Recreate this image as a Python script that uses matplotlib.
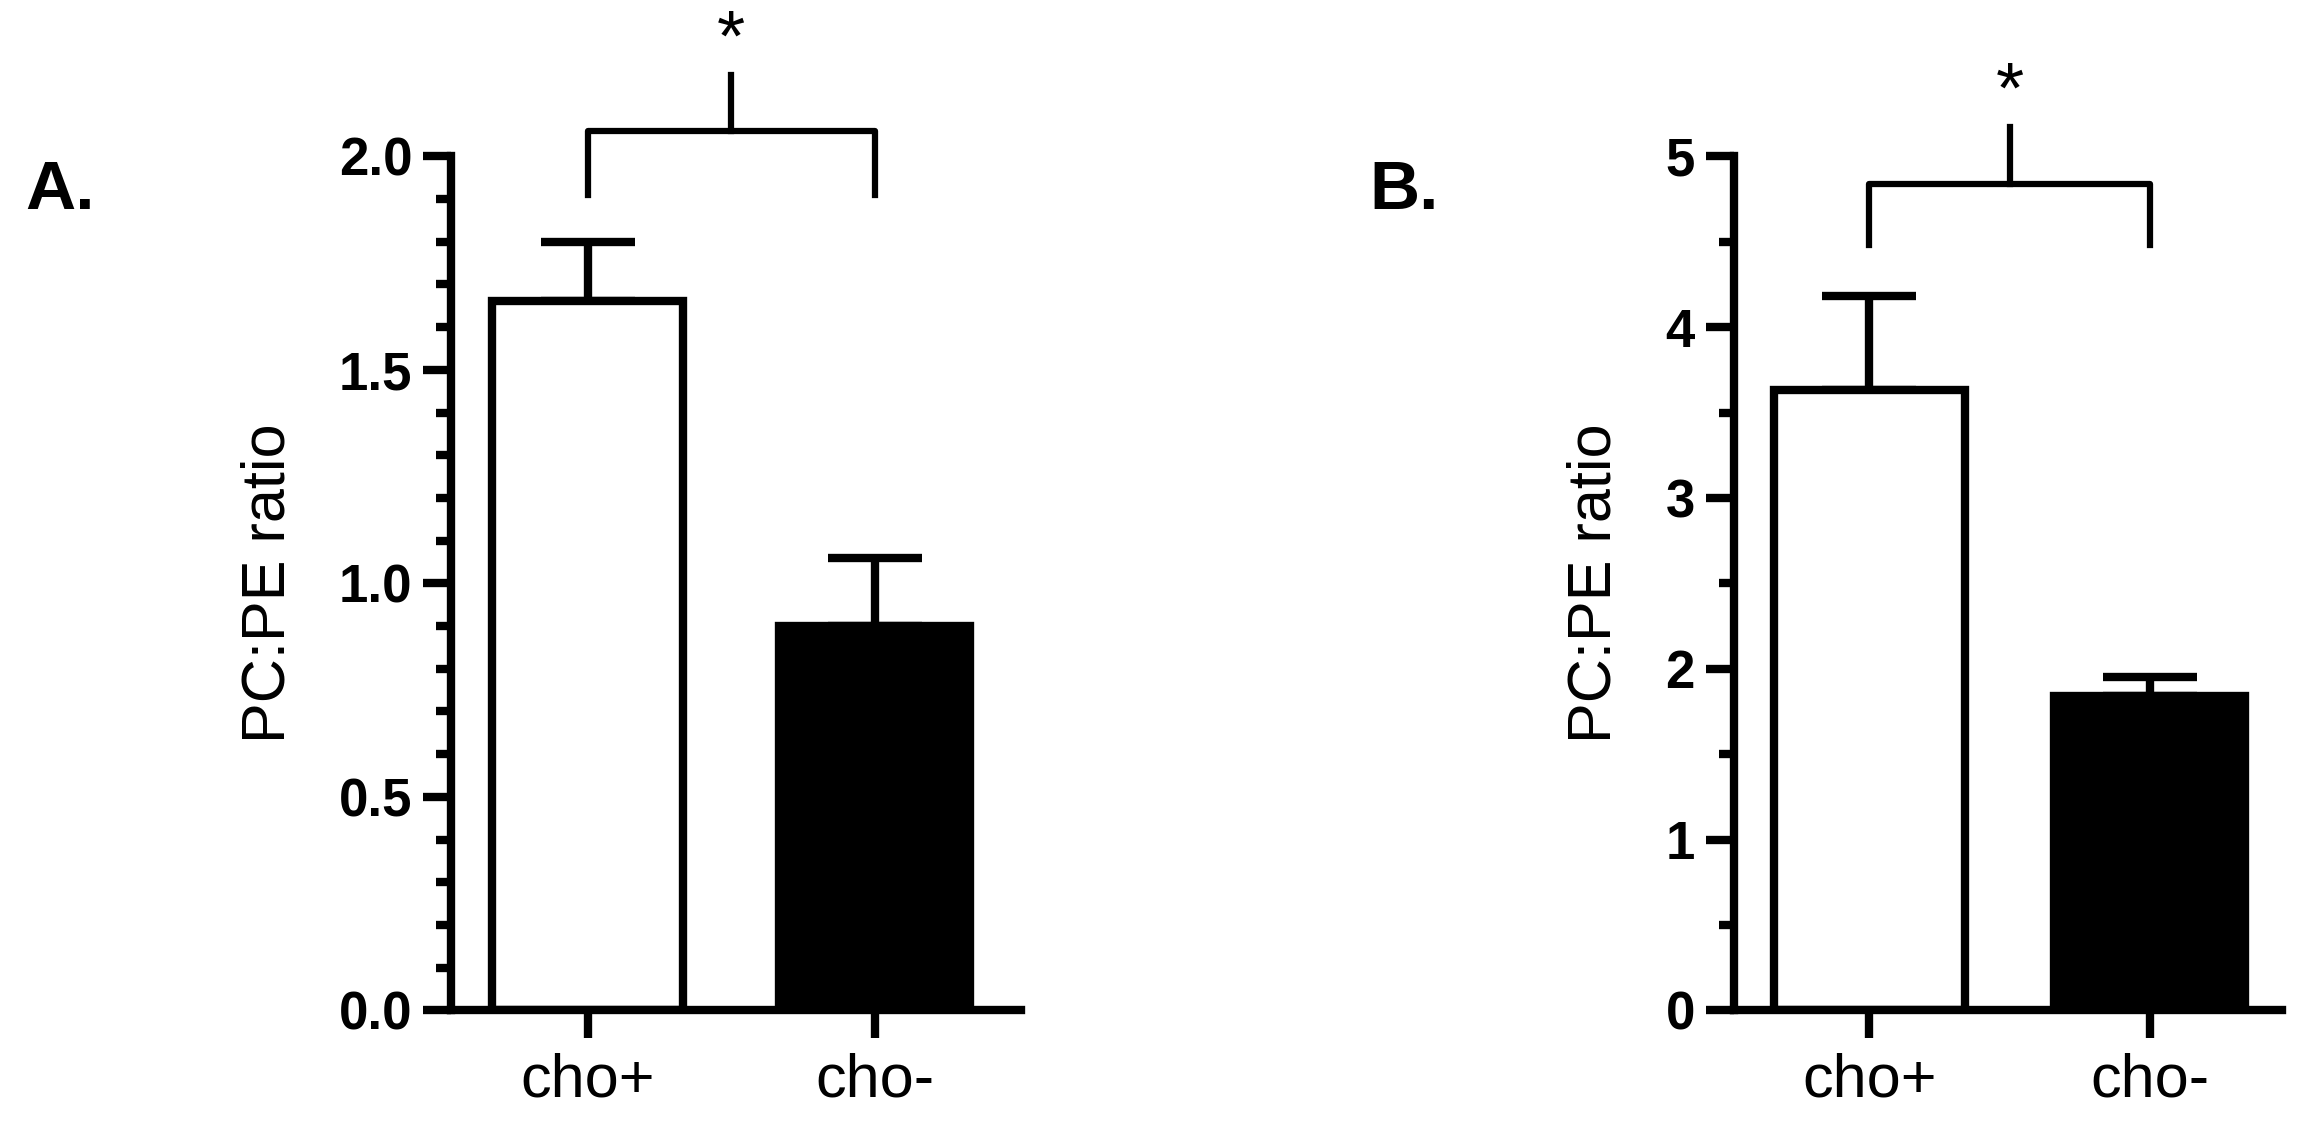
import matplotlib
matplotlib.use("Agg")
import matplotlib.pyplot as plt
from matplotlib.ticker import MultipleLocator

plt.rcParams['font.family'] = ['Liberation Sans', 'DejaVu Sans']

groups = ['cho+', 'cho-']
means_a = [1.66, 0.90]
errs_a = [0.14, 0.16]
means_b = [3.63, 1.84]
errs_b = [0.55, 0.11]
colors = ['white', 'black']

fig = plt.figure(figsize=(23.21, 11.24), dpi=100)

def panel(rect, means, errs, ymax, major, minor, xlim, width, brk, letter, letter_x):
    ax = fig.add_axes(rect)
    x = [0, 1]
    ax.bar(x, means, width=width, color=colors, edgecolor='black', linewidth=6, zorder=2)
    ax.errorbar(x, means, yerr=[[0, 0], errs], fmt='none', ecolor='black',
                elinewidth=6, capsize=34, capthick=6, zorder=1)
    ax.set_xlim(*xlim)
    ax.set_ylim(0, ymax)
    ax.yaxis.set_major_locator(MultipleLocator(major))
    ax.yaxis.set_minor_locator(MultipleLocator(minor))
    ax.set_xticks(x)
    ax.set_xticklabels(groups, fontsize=44)
    for lab in ax.get_yticklabels():
        lab.set_fontweight('bold')
        lab.set_fontsize(38)
    ax.tick_params(axis='y', which='major', length=20, width=6, pad=8)
    ax.tick_params(axis='y', which='minor', length=11, width=6)
    ax.tick_params(axis='x', length=20, width=6, pad=10)
    for s in ['top', 'right']:
        ax.spines[s].set_visible(False)
    for s in ['left', 'bottom']:
        ax.spines[s].set_linewidth(6)
    ax.set_ylabel('PC:PE ratio', fontsize=44, labelpad=30)
    # significance bracket
    lo, mid, hi = brk
    ax.plot([0, 0, 1, 1], [lo, mid, mid, lo], color='black', lw=4.5, clip_on=False)
    ax.plot([0.5, 0.5], [mid, hi], color='black', lw=4.5, clip_on=False)
    ax.text(0.5, hi, '*', ha='center', va='bottom', fontsize=52, clip_on=False)
    fig.text(letter_x, 0.83, letter, fontsize=50, fontweight='bold', ha='left', va='center')
    return ax

fmt1 = lambda v, p: f"{v:.1f}"
axa = panel([0.1945, 0.101, 0.2455, 0.76], means_a, errs_a, 2.0, 0.5, 0.1,
            (-0.474, 1.51), 0.665, (1.91, 2.06, 2.19), 'A.', 0.011)
axa.yaxis.set_major_formatter(plt.FuncFormatter(fmt1))
axb = panel([0.747, 0.101, 0.236, 0.76], means_b, errs_b, 5, 1, 0.5,
            (-0.484, 1.47), 0.68, (4.48, 4.84, 5.17), 'B.', 0.59)

fig.savefig('out.png', dpi=100)
